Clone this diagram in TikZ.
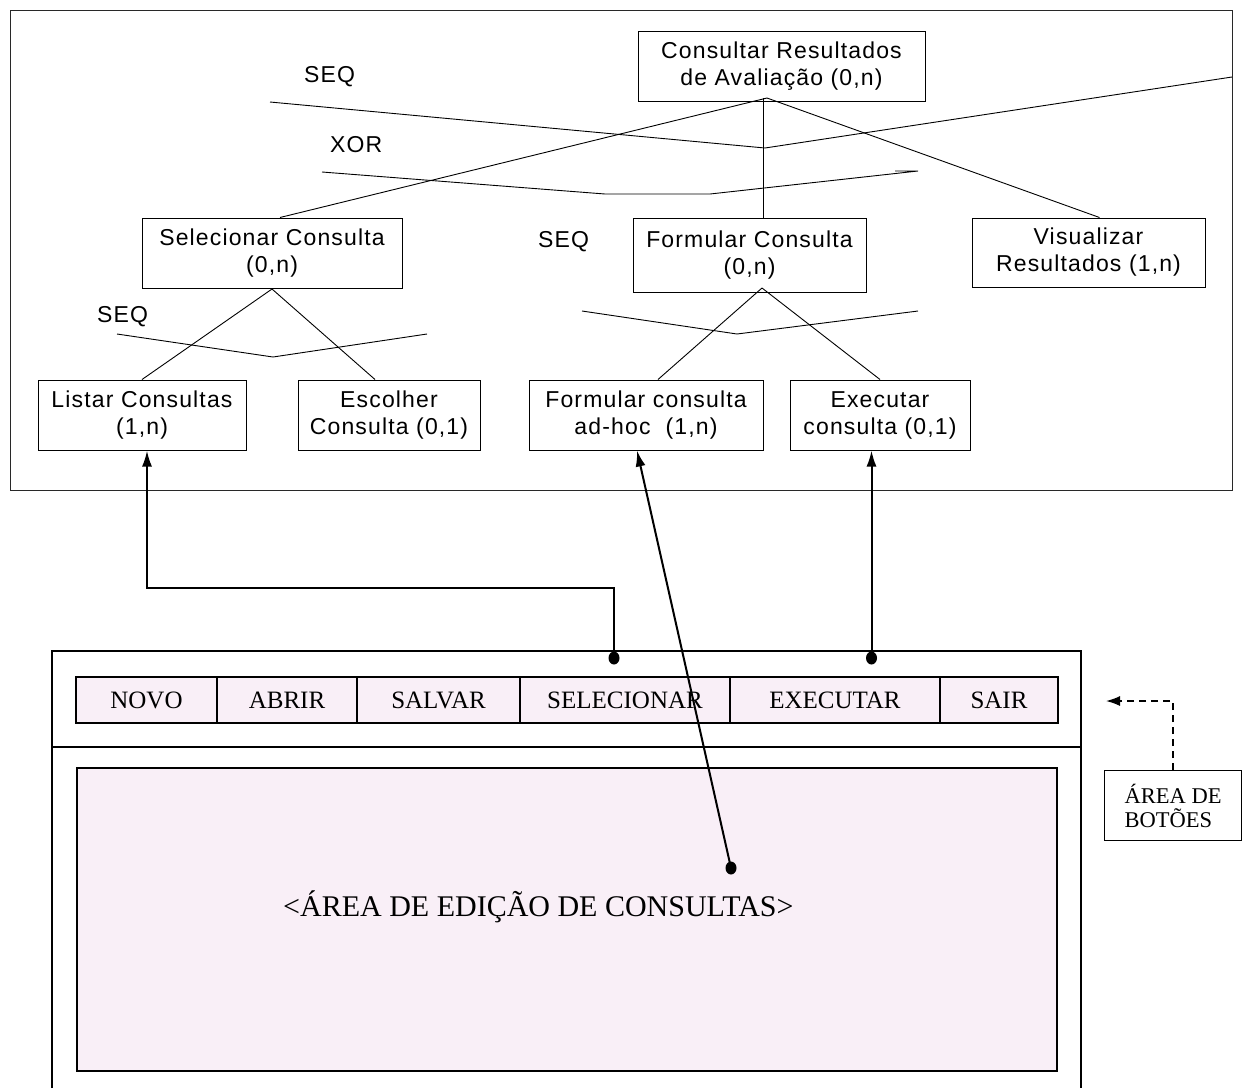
\documentclass[tikz,border=0pt]{standalone}
\usepackage{fontspec}
\setmainfont{Liberation Serif}
\newfontfamily\diagfont[LetterSpace=5]{Liberation Sans}
\usetikzlibrary{arrows.meta,calc}
\definecolor{pinkfill}{RGB}{249,239,247}
\definecolor{framegray}{RGB}{40,40,40}
\begin{document}
\begin{tikzpicture}[x=1pt,y=-1pt,
  task/.style={draw, line width=1pt, font=\diagfont\fontsize{23}{27}\selectfont, align=center, inner sep=0pt},
  thinline/.style={line width=0.9pt},
  oplabel/.style={font=\diagfont\fontsize{23}{27}\selectfont, anchor=base west, inner sep=0pt},
  btn/.style={draw, line width=1.8pt, fill=pinkfill, font=\fontsize{25}{30}\selectfont, inner sep=0pt, minimum height=46pt},
  link/.style={line width=2pt, -{Latex[length=16pt,width=10pt]}},
  winline/.style={line width=2pt}
]
\fill[white] (0,0) rectangle (1242,1088);
\useasboundingbox (0,0) rectangle (1242,1088);

% ---------- top frame ----------
\draw[line width=1pt, framegray] (10,10) rectangle (1232,490);

% ---------- task nodes ----------
\node[task, minimum width=287pt, minimum height=70pt] (root) at (781.5,66) {Consultar Resultados\\de Avaliação (0,n)};
\node[task, minimum width=260pt, minimum height=70pt] (selec) at (272,253) {Selecionar Consulta\\(0,n)};
\node[task, minimum width=233pt, minimum height=74pt] (formc) at (749.5,255) {Formular Consulta\\(0,n)};
\node[task, minimum width=233pt, minimum height=69pt] (visual) at (1088.5,252.5) {Visualizar\\Resultados (1,n)};
\node[task, minimum width=208pt, minimum height=70pt] (listar) at (142,415) {Listar Consultas\\(1,n)};
\node[task, minimum width=182pt, minimum height=70pt] (escolher) at (389,415) {Escolher\\Consulta (0,1)};
\node[task, minimum width=234pt, minimum height=70pt] (adhoc) at (646,415) {Formular consulta\\ad-hoc~~(1,n)};
\node[task, minimum width=180pt, minimum height=70pt] (exec) at (880,415) {Executar\\consulta (0,1)};

% ---------- operator labels ----------
\node[oplabel] (seqtop) at (304,82) {SEQ};
\node[oplabel] (xortop) at (330,152) {XOR};
\node[oplabel] (seqsel) at (97,322) {SEQ};
\node[oplabel] (seqform) at (538,247) {SEQ};

% ---------- decomposition of root ----------
\coordinate (rapex) at (767,98);
\draw[thinline] (rapex) -- ($(selec.north)+(8,0)$);
\draw[thinline] (rapex -| 763,0) -- (formc.north -| 763,0);
\draw[thinline] (rapex) -- ($(visual.north)+(11,0)$);

% SEQ operator line (top)
\coordinate (sqa) at (270,102);
\coordinate (sqb) at (765,148);
\coordinate (sqc) at (1232,77);
\draw[thinline] (sqa) -- (sqb) -- (sqc);

% XOR operator line
\coordinate (xa) at (322,172);
\coordinate (xb) at (605,194);
\coordinate (xc) at (710,194);
\coordinate (xd) at (918,171);
\coordinate (xe) at (895,171);
\draw[thinline] (xa) -- (xb) -- (xc) -- (xd) -- (xe);

% ---------- decomposition of Selecionar ----------
\coordinate (sapex) at (272,289);
\draw[thinline] (sapex) -- (listar.north);
\draw[thinline] (sapex) -- ($(escolher.north)+(-14,0)$);
\coordinate (ssa) at (117,334);
\coordinate (ssb) at (273,357);
\coordinate (ssc) at (427,334);
\draw[thinline] (ssa) -- (ssb) -- (ssc);

% ---------- decomposition of Formular ----------
\coordinate (fapex) at (762,288);
\draw[thinline] (fapex) -- ($(adhoc.north)+(12,0)$);
\draw[thinline] (fapex) -- (exec.north);
\coordinate (fsa) at (582,311);
\coordinate (fsb) at (737,334);
\coordinate (fsc) at (918,311);
\draw[thinline] (fsa) -- (fsb) -- (fsc);

% ---------- bottom window ----------
\draw[winline] (52,1088) -- (52,651) -- (1081,651) -- (1081,1088);
\draw[winline] (52,747) -- (1081,747);

\node[btn, minimum width=141pt] (novo) at (146.5,700) {NOVO};
\node[btn, minimum width=140pt] (abrir) at (287,700) {ABRIR};
\node[btn, minimum width=163pt] (salvar) at (438.5,700) {SALVAR};
\node[btn, minimum width=210pt] (selbtn) at (625,700) {SELECIONAR};
\node[btn, minimum width=210pt] (exebtn) at (835,700) {EXECUTAR};
\node[btn, minimum width=118pt] (sair) at (999,700) {SAIR};

\node[draw, winline, fill=pinkfill, minimum width=980pt, minimum height=303pt, inner sep=0pt] (edit) at (567,919.5) {};
\node[font=\fontsize{30}{34}\selectfont, anchor=base west, inner sep=0pt] (edittext) at (283,916) {<ÁREA DE EDIÇÃO DE CONSULTAS>};

% ---------- links ----------
\coordinate (dsel) at (614,658);
\coordinate (dexe) at (871.5,658);
\coordinate (dedit) at (731,868);
\coordinate (elbowA) at (614,588);
\coordinate (elbowB) at (147,588);
\draw[link] (dsel) -- (elbowA) -- (elbowB) -- (elbowB |- listar.south);
\draw[link] (dexe) -- (dexe |- exec.south);
\draw[link] (dedit) -- ($(adhoc.south)+(-9,0)$);
\fill (dsel) ellipse (5.5pt and 6.5pt);
\fill (dexe) ellipse (5.5pt and 6.5pt);
\fill (dedit) ellipse (5.5pt and 6.5pt);

% ---------- legend ----------
\node[draw, line width=1.3pt, minimum width=137pt, minimum height=70pt, anchor=north west, align=left, inner sep=0pt, font=\fontsize{22.5}{24}\selectfont] (legend) at (1104,770) {ÁREA DE\\BOTÕES};
\coordinate (legtip) at (1106,701);
\draw[line width=1.5pt, dash pattern=on 7pt off 5pt, -{Latex[length=14pt,width=10pt]}] (legend.north) -- (legend.north |- legtip) -- (legtip);
\end{tikzpicture}
\end{document}
